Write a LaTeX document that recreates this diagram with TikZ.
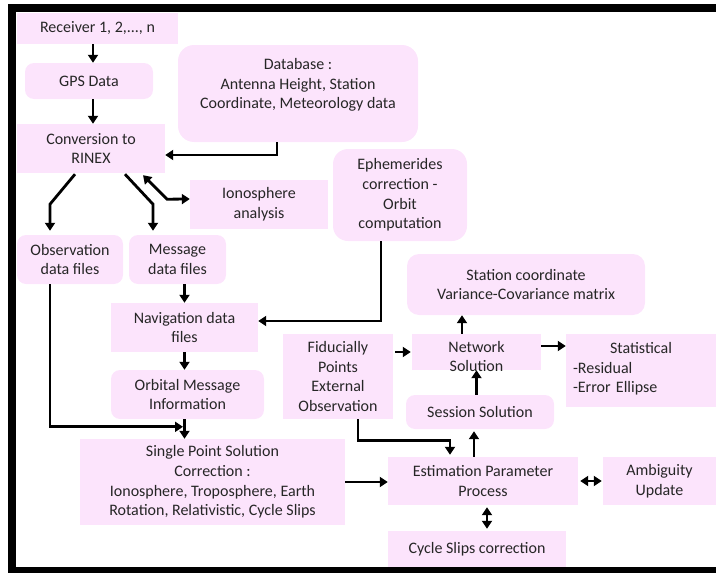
\documentclass[tikz,border=0pt]{standalone}
\usepackage{fontspec}
\setmainfont{Carlito}
\usepackage{tikz}
\usetikzlibrary{arrows.meta,positioning,calc}
\definecolor{boxpink}{RGB}{252,228,252}

\begin{document}
\begin{tikzpicture}[
  x=1pt, y=-1pt,
  box/.style={fill=boxpink, inner sep=0pt, align=center, text=black!85, font=\fontsize{16}{19.7}\selectfont},
  rbox/.style={box, rounded corners=9pt},
  arrow/.style={-{Triangle[length=8pt,width=10pt]}, line width=2.8pt},
  twoway/.style={{Triangle[length=8pt,width=10pt]}-{Triangle[length=8pt,width=10pt]}, line width=2.8pt}
]
\useasboundingbox (0,0) rectangle (716,573);

\node[box, minimum width=161pt, minimum height=31pt] (recv) at (97.5,28.5) {Receiver 1, 2,..., n};
\node[rbox, minimum width=128pt, minimum height=36pt] (gps) at (89,81) {GPS Data};
\node[rbox, rounded corners=16pt, minimum width=240pt, minimum height=97pt] (db) at (298,93.5) {Database :\\Antenna Height, Station\\Coordinate, Meteorology data\\\mbox{}};
\node[box, minimum width=148pt, minimum height=49pt] (rinex) at (91,148.5) {Conversion to\\RINEX};
\node[box, minimum width=138pt, minimum height=49pt] (iono) at (259,204.5) {Ionosphere\\analysis};
\node[rbox, rounded corners=15pt, minimum width=134pt, minimum height=92pt] (ephem) at (400,195) {Ephemerides\\correction -\\Orbit\\computation};
\node[rbox, minimum width=106pt, minimum height=49pt] (obs) at (70,259.5) {Observation\\data files};
\node[rbox, minimum width=97pt, minimum height=49pt] (msg) at (177.5,259.5) {Message\\data files};
\node[rbox, rounded corners=12pt, minimum width=238pt, minimum height=61pt] (station) at (526,284.5) {Station coordinate\\Variance-Covariance matrix};
\node[box, minimum width=147pt, minimum height=49pt] (nav) at (184.5,327.5) {Navigation data\\files};
\node[box, minimum width=110pt, minimum height=85pt] (fid) at (338,376.5) {Fiducially\\Points\\External\\Observation};
\node[box, minimum width=129pt, minimum height=36pt, inner ysep=-4pt] (net) at (476.5,352) {\rule{0pt}{20pt}Network\\Solution};
\node[box, minimum width=150pt, minimum height=73pt, text width=136pt, align=left] (stat) at (641,370.5) {\makebox[\linewidth]{Statistical}\\-Residual\\-Error Ellipse\rule[-6pt]{0pt}{0pt}};
\node[rbox, minimum width=153pt, minimum height=49pt] (orbit) at (187.5,394.5) {Orbital Message\\Information};
\node[rbox, minimum width=148pt, minimum height=34pt] (session) at (480,412) {Session Solution};
\node[box, minimum width=265pt, minimum height=86pt] (spp) at (212.5,482) {Single Point Solution\\Correction :\\Ionosphere, Troposphere, Earth\\Rotation, Relativistic, Cycle Slips};
\node[box, minimum width=190pt, minimum height=48pt] (est) at (483,481) {Estimation Parameter\\Process};
\node[box, minimum width=113pt, minimum height=48pt] (amb) at (659.5,481) {Ambiguity\\Update};
\node[box, minimum width=178pt, minimum height=36pt] (cycle) at (477,549) {Cycle Slips correction};

% input chain
\draw[arrow] ([xshift=-4.5pt]recv.south) -- ([xshift=4pt]gps.north);
\draw[arrow] ([xshift=4pt]gps.south) -- ([xshift=2pt]rinex.north);
\draw[arrow] ([xshift=-21pt]db.south) |- ([yshift=-6.5pt]rinex.east);
\draw[arrow] ([xshift=-16pt,yshift=-1pt]rinex.south) -- ++(-25,30) -- ([xshift=-20pt,yshift=4pt]obs.north);
\draw[arrow] ([xshift=34pt,yshift=-1pt]rinex.south) -- ++(28,30) -- ([xshift=-24.5pt,yshift=4pt]msg.north);
\draw[twoway] ([xshift=52pt,yshift=-2pt]rinex.south) -- ++(24,24) -- ([yshift=5.5pt]iono.west);
\draw[arrow] ([xshift=-19pt]ephem.south) |- ([yshift=6.5pt]nav.east);
\draw[arrow] ([xshift=-20pt]obs.south) |- ([xshift=-29.5pt,yshift=12pt]spp.north);
\draw[arrow] (msg.south -| nav.north) -- (nav.north);
\draw[arrow] (nav.south) -- (nav.south |- orbit.north);
\draw[arrow] (orbit.south -| nav.south) -- (spp.north -| nav.south);
% processing
\draw[arrow] (spp.east) -- (spp.east -| est.west);
\draw[arrow] ([xshift=2pt]fid.east |- net.west) -- ([xshift=-1pt]net.west);
\draw[arrow] ([xshift=20pt]fid.south) -- ++(0,21) -| ([xshift=-33pt,yshift=2pt]est.north);
\draw[arrow] ([xshift=-9pt]est.north) -- ([xshift=-9pt,yshift=-2pt]est.north |- session.south);
\draw[arrow] (net.south |- session.north) -- (net.south);
\draw[arrow] ([xshift=-14.5pt]net.north) -- ([xshift=-14.5pt]net.north |- station.south);
\draw[arrow] ([yshift=6pt]net.east) -- ([yshift=6pt]net.east -| stat.west);
\draw[twoway] ([xshift=2pt]est.east) -- ([xshift=-1pt]amb.west);
\draw[twoway] ([xshift=4pt,yshift=-2pt]est.south) -- ([xshift=4pt,yshift=2pt]est.south |- cycle.north);

% frame
\draw[line width=8pt] (720,7.5) -- (11.5,7.5) -- (11.5,570.5) -- (720,570.5);
\end{tikzpicture}
\end{document}
